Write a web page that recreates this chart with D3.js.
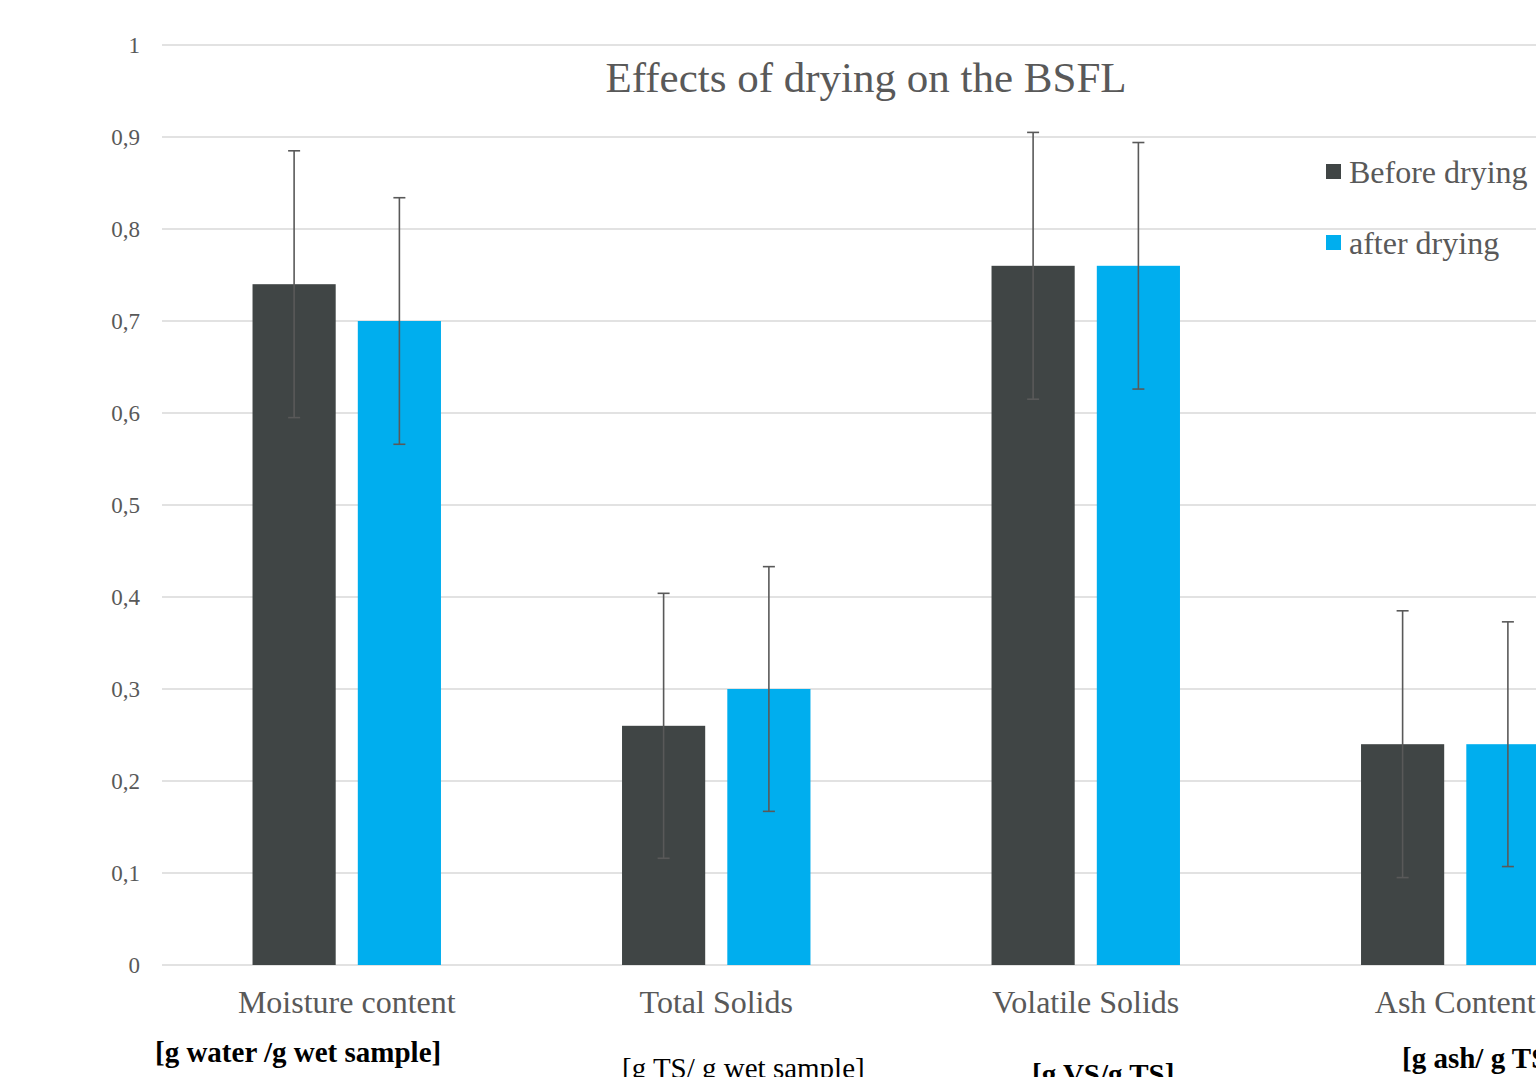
<!DOCTYPE html>
<html>
<head>
<meta charset="utf-8">
<script src="https://cdn.jsdelivr.net/npm/d3@7"></script>
<style>
  html, body { margin: 0; padding: 0; background: #fff; overflow: hidden; }
  svg { display: block; }
  text { font-family: "Liberation Serif", "Times New Roman", serif; }
</style>
</head>
<body>
<svg id="chart" width="1536" height="1077"></svg>
<script>
const categories = ["Moisture content", "Total Solids", "Volatile Solids", "Ash Content"];
const unitLabels = ["[g water /g wet sample]", "[g TS/ g wet sample]", "[g VS/g TS]", "[g ash/ g TS]"];
const unitBold = [true, false, true, true];
const seriesNames = ["Before drying", "after drying"];
const beforeValues = [0.74, 0.26, 0.76, 0.24];
const afterValues = [0.70, 0.30, 0.76, 0.24];
const beforeErrors = [0.145, 0.144, 0.145, 0.145];
const afterErrors = [0.134, 0.133, 0.134, 0.133];
const yTicks = [0, 0.1, 0.2, 0.3, 0.4, 0.5, 0.6, 0.7, 0.8, 0.9, 1];
const chartTitle = "Effects of drying on the BSFL";

const colors = ["#404545", "#00AEEE"];
const svg = d3.select("#chart");

const plotLeft = 162, plotRight = 1640, plotTop = 45, plotBottom = 965;
const y = d3.scaleLinear().domain([0, 1]).range([plotBottom, plotTop]);
const x = d3.scaleBand().domain(categories).range([plotLeft, plotRight]).paddingInner(0.49).paddingOuter(0.245);
const xs = d3.scaleBand().domain(seriesNames).range([0, x.bandwidth()]).paddingInner(0.21);

// gridlines
svg.append("g").selectAll("line").data(yTicks).join("line")
  .attr("x1", plotLeft).attr("x2", 1536)
  .attr("y1", d => y(d)).attr("y2", d => y(d))
  .attr("stroke", "#d9d9d9").attr("stroke-width", 1.6);

// y axis labels
const fmt = d => d === 0 ? "0" : d === 1 ? "1" : String(d).replace(".", ",");
svg.append("g").selectAll("text").data(yTicks).join("text")
  .attr("x", 140).attr("y", d => y(d)).attr("dy", "0.35em")
  .attr("text-anchor", "end").attr("font-size", 23).attr("fill", "#595959")
  .text(fmt);

// title
svg.append("text").attr("x", 866).attr("y", 92).attr("text-anchor", "middle")
  .attr("font-size", 43).attr("fill", "#595959").text(chartTitle);

// bars
const data = [];
categories.forEach((c, i) => {
  data.push({cat: c, s: seriesNames[0], v: beforeValues[i], e: beforeErrors[i], color: colors[0]});
  data.push({cat: c, s: seriesNames[1], v: afterValues[i], e: afterErrors[i], color: colors[1]});
});
const bars = svg.append("g");
bars.selectAll("rect").data(data).join("rect")
  .attr("x", d => x(d.cat) + xs(d.s))
  .attr("y", d => y(d.v))
  .attr("width", xs.bandwidth())
  .attr("height", d => y(0) - y(d.v))
  .attr("fill", d => d.color);

// error bars
const eb = svg.append("g").attr("stroke", "#595959").attr("stroke-width", 1.6);
data.forEach(d => {
  const cx = x(d.cat) + xs(d.s) + xs.bandwidth() / 2;
  eb.append("line").attr("x1", cx).attr("x2", cx).attr("y1", y(d.v + d.e)).attr("y2", y(d.v - d.e));
  eb.append("line").attr("x1", cx - 6).attr("x2", cx + 6).attr("y1", y(d.v + d.e)).attr("y2", y(d.v + d.e));
  eb.append("line").attr("x1", cx - 6).attr("x2", cx + 6).attr("y1", y(d.v - d.e)).attr("y2", y(d.v - d.e));
});

// category labels
svg.append("g").selectAll("text").data(categories).join("text")
  .attr("x", d => x(d) + x.bandwidth() / 2).attr("y", 1013)
  .attr("text-anchor", "middle").attr("font-size", 32).attr("fill", "#595959")
  .text(d => d);

// unit labels
const unitX = [155, 622, 1032, 1402];
const unitY = [1062, 1078, 1084, 1068];
svg.append("g").selectAll("text").data(unitLabels).join("text")
  .attr("x", (d, i) => unitX[i]).attr("y", (d, i) => unitY[i])
  .attr("font-size", 29).attr("fill", "#000")
  .attr("font-weight", (d, i) => unitBold[i] ? "bold" : "normal")
  .text(d => d);

// legend
const leg = svg.append("g");
seriesNames.forEach((s, i) => {
  const ly = 172 + i * 71;
  leg.append("rect").attr("x", 1326).attr("y", ly - 8).attr("width", 15).attr("height", 15).attr("fill", colors[i]);
  leg.append("text").attr("x", 1349).attr("y", ly + 11).attr("font-size", 32).attr("fill", "#595959").text(s);
});
</script>
</body>
</html>
